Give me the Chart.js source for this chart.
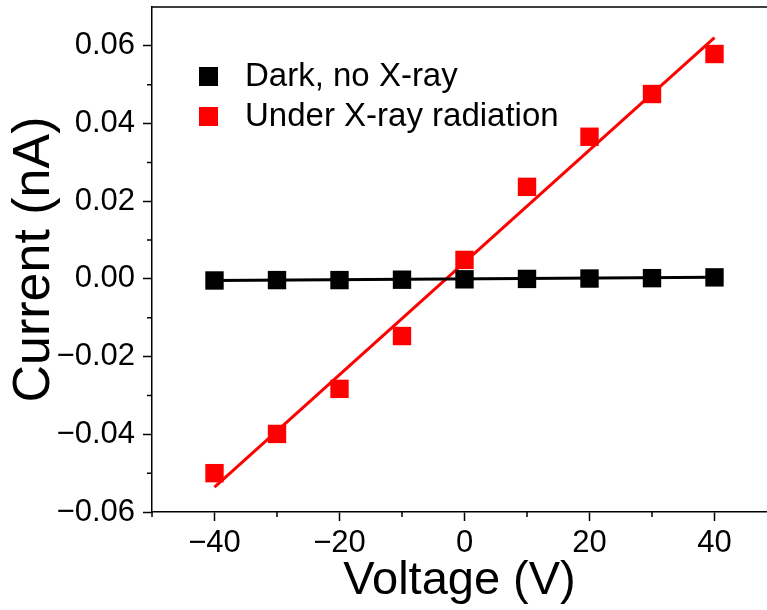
<!DOCTYPE html>
<html>
<head>
<meta charset="utf-8">
<script src="https://cdn.jsdelivr.net/npm/chart.js@4"></script>
<style>
  html, body { margin: 0; padding: 0; background: #fff; }
  #wrap { width: 767px; height: 610px; }
</style>
</head>
<body>
<div id="wrap"><canvas id="c"></canvas></div>
<script>
/* ─── Data ──────────────────────────────────────────── */
const voltages = [-40, -30, -20, -10, 0, 10, 20, 30, 40];
const darkCurrent = [-0.0004, -0.0003, -0.0003, -0.0002, -0.0001, 0.0, 0.0001, 0.0002, 0.0004];
const xrayCurrent = [-0.0500, -0.0399, -0.0283, -0.0147, 0.0049, 0.0237, 0.0366, 0.0476, 0.0579];

// linear fit lines (end points)
const fitVoltages = [-40, 40];
const darkFit = [-0.0004, 0.0004];
const xrayFit = [-0.0536, 0.0621];

const xTicks = [-40, -20, 0, 20, 40];
const xMinorTicks = [-50, -30, -10, 10, 30];
const yTicks = [-0.06, -0.04, -0.02, 0, 0.02, 0.04, 0.06];
const yMinorTicks = [-0.05, -0.03, -0.01, 0.01, 0.03, 0.05];

const FONT = "'Liberation Sans', Arial, sans-serif";
const minus = (s) => s.replace("-", "\u2212");

const pts = (xs, ys) => xs.map((x, i) => ({ x: x, y: ys[i] }));

/* ─── Frame extras: top border, minor ticks, legend ── */
const framePlugin = {
  id: "frame",
  afterDraw(chart) {
    const { ctx, chartArea: a, scales } = chart;
    ctx.save();
    ctx.strokeStyle = "#000";
    ctx.lineWidth = 1.5;
    ctx.beginPath();
    ctx.moveTo(a.left, a.top);
    ctx.lineTo(a.right, a.top);
    xMinorTicks.forEach((v) => {
      const x = scales.x.getPixelForValue(v);
      ctx.moveTo(x, a.bottom);
      ctx.lineTo(x, a.bottom + 5);
    });
    yMinorTicks.forEach((v) => {
      const y = scales.y.getPixelForValue(v);
      ctx.moveTo(a.left - 5, y);
      ctx.lineTo(a.left, y);
    });
    ctx.stroke();

    // legend
    const items = chart.data.datasets.filter((d) => d.inLegend);
    ctx.font = "33px " + FONT;
    ctx.textBaseline = "middle";
    items.forEach((d, i) => {
      const cy = 76 + i * 40;
      ctx.fillStyle = d.backgroundColor;
      ctx.fillRect(199, cy - 9, 19, 19);
      ctx.fillStyle = "#000";
      ctx.fillText(d.label, 245, cy + 1);
    });
    ctx.restore();
  },
};

/* ─── Chart ─────────────────────────────────────────── */
new Chart(document.getElementById("c"), {
  type: "scatter",
  data: {
    datasets: [
      {
        label: "Dark, no X-ray",
        inLegend: true,
        data: pts(voltages, darkCurrent),
        backgroundColor: "#000000",
        borderColor: "#000000",
        pointStyle: "rect",
        pointRadius: 13,
        pointBorderWidth: 0,
        order: 0,
      },
      {
        label: "Under X-ray radiation",
        inLegend: true,
        data: pts(voltages, xrayCurrent),
        backgroundColor: "#ff0000",
        borderColor: "#ff0000",
        pointStyle: "rect",
        pointRadius: 13,
        pointBorderWidth: 0,
        order: 1,
      },
      {
        label: "dark fit",
        data: pts(fitVoltages, darkFit),
        showLine: true,
        borderColor: "#000000",
        borderWidth: 3,
        pointRadius: 0,
        order: 2,
      },
      {
        label: "x-ray fit",
        data: pts(fitVoltages, xrayFit),
        showLine: true,
        borderColor: "#ff0000",
        borderWidth: 3,
        pointRadius: 0,
        order: 3,
      },
    ],
  },
  options: {
    responsive: true,
    maintainAspectRatio: false,
    animation: false,
    // plot frame runs off the right edge of the picture
    layout: { autoPadding: false, padding: { top: 7, right: 0, bottom: 0, left: 0 } },
    plugins: { legend: { display: false }, tooltip: { enabled: false } },
    scales: {
      x: {
        type: "linear",
        min: -50,
        max: 48.4,
        afterBuildTicks: (axis) => { axis.ticks = xTicks.map((v) => ({ value: v })); },
        afterFit: (axis) => {
          axis.height = 98;
          axis.paddingLeft = 0;
          axis.paddingRight = 0;
        },
        border: { color: "#000", width: 1.5 },
        grid: { drawOnChartArea: false, drawTicks: true, tickLength: 9, tickColor: "#000", tickWidth: 1.5 },
        ticks: {
          color: "#000",
          padding: 4,
          maxRotation: 0,
          font: { family: FONT, size: 31 },
          callback: (v) => minus(String(v)),
        },
        title: {
          display: true,
          text: "Voltage (V)",
          color: "#000",
          font: { family: FONT, size: 47 },
          padding: { top: 0, bottom: 1 },
        },
      },
      y: {
        type: "linear",
        min: -0.06,
        max: 0.07,
        afterBuildTicks: (axis) => { axis.ticks = yTicks.map((v) => ({ value: v })); },
        afterFit: (axis) => {
          axis.width = 152;
          axis.paddingTop = 0;
          axis.paddingBottom = 0;
        },
        border: { color: "#000", width: 1.5 },
        grid: { drawOnChartArea: false, drawTicks: true, tickLength: 9, tickColor: "#000", tickWidth: 1.5 },
        ticks: {
          color: "#000",
          padding: 8,
          font: { family: FONT, size: 31 },
          callback: (v) => minus(Number(v).toFixed(2)),
        },
        title: {
          display: true,
          text: "Current (nA)",
          color: "#000",
          font: { family: FONT, size: 52 },
          padding: { top: 3, bottom: 0 },
        },
      },
    },
  },
  plugins: [framePlugin],
});
</script>
</body>
</html>
